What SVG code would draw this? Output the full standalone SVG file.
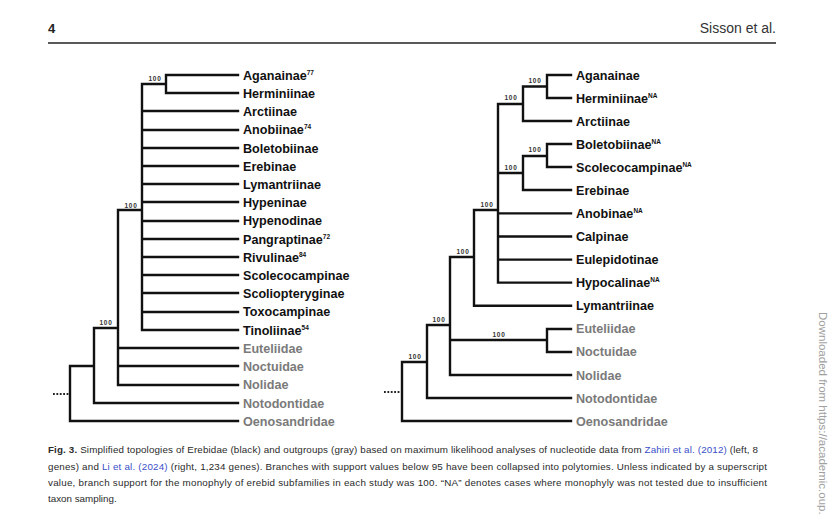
<svg xmlns="http://www.w3.org/2000/svg" width="828" height="522" viewBox="0 0 828 522">
<style>
.br{fill:none;stroke:#111;stroke-width:2.4;stroke-linejoin:miter;stroke-linecap:square}
.dot{fill:none;stroke:#222;stroke-width:2;stroke-dasharray:1.8 1.6}
.lb{font-family:"Liberation Sans",Arial,sans-serif;font-weight:bold;font-size:12.6px;fill:#111}
.og{fill:#7a7a7a}
.sup{font-size:6.5px}
.bs{font-family:"Liberation Sans",Arial,sans-serif;font-weight:bold;font-size:6.5px;fill:#333;letter-spacing:0.8px;text-anchor:middle}
.cap{font-family:"Liberation Sans",Arial,sans-serif;font-size:9.8px;fill:#2a2a2a}
.lnk{fill:#3a4fc9}
</style>
<rect width="828" height="522" fill="#fff"/>
<g id="header">
<text x="48" y="33" font-family="Liberation Sans,Arial,sans-serif" font-weight="bold" font-size="13" fill="#222">4</text>
<text x="776" y="33" font-family="Liberation Sans,Arial,sans-serif" font-size="14" fill="#333" text-anchor="end">Sisson et al.</text>
<line x1="48" y1="43" x2="776" y2="43" stroke="#222" stroke-width="1.4"/>
</g>
<g id="connectors">
<path class="br" d="M238,75 H166 V93 H238 M166,84 H142 M142,84 V330 M142,111 H238 M142,130 H238 M142,148 H238 M142,166 H238 M142,184 H238 M142,202 H238 M142,221 H238 M142,239 H238 M142,257 H238 M142,275 H238 M142,293 H238 M142,312 H238 M142,330 H238 M142,210 H118 M118,210 V385 M118,348 H238 M118,366 H238 M118,385 H238 M118,328 H94 M94,328 V403 H238 M94,366 H70 M70,366 V421 H238"/>
<path class="dot" d="M53,394 H69"/>
<path class="br" d="M571,75 H547 V98 H571 M547,86.5 H523 M571,121 H523 V86.5 M523,104 H498 M571,144 H547 V167 H571 M547,156 H523 M571,190 H523 V156 M523,173 H498 M498,104 V282.6 M498,213.4 H571 M498,236.5 H571 M498,259.6 H571 M498,282.6 H571 M498,210 H474 M474,210 V305.7 H571 M474,257 H450 M450,257 V375 H571 M571,329 H547 V352 H571 M547,340 H450 M450,325 H427 M427,325 V398 H571 M427,362 H402 M402,362 V421 H571"/>
<path class="dot" d="M384,392 H400"/>
</g>
<g id="support-left">
<text class="bs" x="155" y="81">100</text>
<text class="bs" x="131" y="207.5">100</text>
<text class="bs" x="106" y="325">100</text>
</g>
<g id="support-right">
<text class="bs" x="535" y="82.5">100</text>
<text class="bs" x="511" y="100">100</text>
<text class="bs" x="535" y="151.5">100</text>
<text class="bs" x="511" y="169.5">100</text>
<text class="bs" x="487" y="206.5">100</text>
<text class="bs" x="463" y="253.5">100</text>
<text class="bs" x="499" y="336.5">100</text>
<text class="bs" x="439" y="321.5">100</text>
<text class="bs" x="415" y="358.5">100</text>
</g>
<g id="left-tree">
<g id="L-aganainae"><text class="lb" x="243" y="79.5">Aganainae<tspan class="sup" dy="-5">77</tspan></text></g>
<g id="L-herminiinae"><text class="lb" x="243" y="97.5">Herminiinae</text></g>
<g id="L-arctiinae"><text class="lb" x="243" y="115.5">Arctiinae</text></g>
<g id="L-anobiinae"><text class="lb" x="243" y="134">Anobiinae<tspan class="sup" dy="-5">74</tspan></text></g>
<g id="L-boletobiinae"><text class="lb" x="243" y="152.5">Boletobiinae</text></g>
<g id="L-erebinae"><text class="lb" x="243" y="170.5">Erebinae</text></g>
<g id="L-lymantriinae"><text class="lb" x="243" y="188.5">Lymantriinae</text></g>
<g id="L-hypeninae"><text class="lb" x="243" y="206.5">Hypeninae</text></g>
<g id="L-hypenodinae"><text class="lb" x="243" y="225">Hypenodinae</text></g>
<g id="L-pangraptinae"><text class="lb" x="243" y="243.5">Pangraptinae<tspan class="sup" dy="-5">72</tspan></text></g>
<g id="L-rivulinae"><text class="lb" x="243" y="261.5">Rivulinae<tspan class="sup" dy="-5">84</tspan></text></g>
<g id="L-scolecocampinae"><text class="lb" x="243" y="279.5">Scolecocampinae</text></g>
<g id="L-scoliopteryginae"><text class="lb" x="243" y="297.5">Scoliopteryginae</text></g>
<g id="L-toxocampinae"><text class="lb" x="243" y="316">Toxocampinae</text></g>
<g id="L-tinoliinae"><text class="lb" x="243" y="334.5">Tinoliinae<tspan class="sup" dy="-5">54</tspan></text></g>
<g id="L-euteliidae"><text class="lb og" x="243" y="352.5">Euteliidae</text></g>
<g id="L-noctuidae"><text class="lb og" x="243" y="370.5">Noctuidae</text></g>
<g id="L-nolidae"><text class="lb og" x="243" y="389">Nolidae</text></g>
<g id="L-notodontidae"><text class="lb og" x="243" y="407.5">Notodontidae</text></g>
<g id="L-oenosandridae"><text class="lb og" x="243" y="425.5">Oenosandridae</text></g>
</g>
<g id="right-tree">
<g id="R-aganainae"><text class="lb" x="576" y="79.5">Aganainae</text></g>
<g id="R-herminiinae"><text class="lb" x="576" y="102.5">Herminiinae<tspan class="sup" dy="-5">NA</tspan></text></g>
<g id="R-arctiinae"><text class="lb" x="576" y="125.5">Arctiinae</text></g>
<g id="R-boletobiinae"><text class="lb" x="576" y="148.5">Boletobiinae<tspan class="sup" dy="-5">NA</tspan></text></g>
<g id="R-scolecocampinae"><text class="lb" x="576" y="172">Scolecocampinae<tspan class="sup" dy="-5">NA</tspan></text></g>
<g id="R-erebinae"><text class="lb" x="576" y="195">Erebinae</text></g>
<g id="R-anobinae"><text class="lb" x="576" y="218">Anobinae<tspan class="sup" dy="-5">NA</tspan></text></g>
<g id="R-calpinae"><text class="lb" x="576" y="241">Calpinae</text></g>
<g id="R-eulepidotinae"><text class="lb" x="576" y="264">Eulepidotinae</text></g>
<g id="R-hypocalinae"><text class="lb" x="576" y="287">Hypocalinae<tspan class="sup" dy="-5">NA</tspan></text></g>
<g id="R-lymantriinae"><text class="lb" x="576" y="310">Lymantriinae</text></g>
<g id="R-euteliidae"><text class="lb og" x="576" y="333">Euteliidae</text></g>
<g id="R-noctuidae"><text class="lb og" x="576" y="356">Noctuidae</text></g>
<g id="R-nolidae"><text class="lb og" x="576" y="379.5">Nolidae</text></g>
<g id="R-notodontidae"><text class="lb og" x="576" y="402.5">Notodontidae</text></g>
<g id="R-oenosandridae"><text class="lb og" x="576" y="425.5">Oenosandridae</text></g>
</g>
<g id="caption">
<text class="cap" x="48" y="453" textLength="710" lengthAdjust="spacing"><tspan font-weight="bold">Fig. 3.</tspan>  Simplified topologies of Erebidae (black) and outgroups (gray) based on maximum likelihood analyses of nucleotide data from <tspan class="lnk">Zahiri et al. (2012)</tspan> (left, 8</text>
<text class="cap" x="48" y="469.5" textLength="719" lengthAdjust="spacing">genes) and <tspan class="lnk">Li et al. (2024)</tspan> (right, 1,234 genes). Branches with support values below 95 have been collapsed into polytomies. Unless indicated by a superscript</text>
<text class="cap" x="48" y="486" textLength="719" lengthAdjust="spacing">value, branch support for the monophyly of erebid subfamilies in each study was 100. “NA” denotes cases where monophyly was not tested due to insufficient</text>
<text class="cap" x="48" y="502">taxon sampling.</text>
</g>
<g id="margin-note">
<text x="0" y="0" transform="translate(819,312) rotate(90)" font-family="Liberation Sans,Arial,sans-serif" font-size="11.5" fill="#a0a0a0">Downloaded from https://academic.oup.</text>
</g>
</svg>
